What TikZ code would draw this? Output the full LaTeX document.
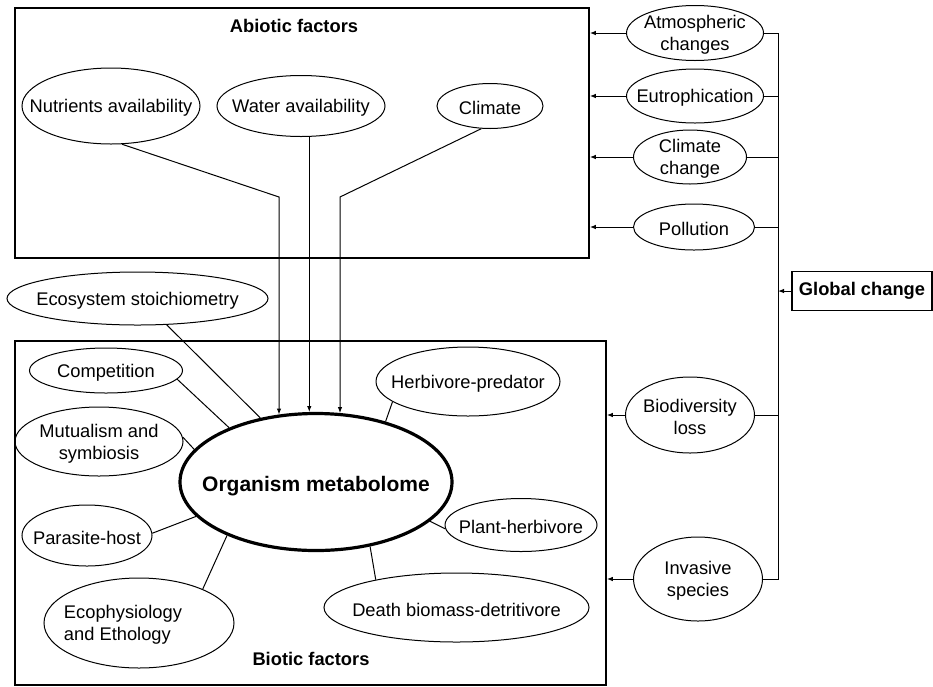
\documentclass[tikz,border=0pt]{standalone}
\usepackage{fontspec}
\setmainfont{Liberation Sans}
\usetikzlibrary{shapes.geometric,arrows.meta}

\begin{document}
\begin{tikzpicture}[
            x=1pt, y=-1pt,
            font=\fontsize{18.3}{22}\selectfont,
            >={Latex[length=6pt,width=4.5pt]},
            frame/.style={draw, rectangle, line width=1.8pt, inner sep=0pt},
            oval/.style={draw, ellipse, line width=1pt, inner sep=0pt},
            link/.style={line width=1pt},
            title/.style={font=\fontsize{18.3}{22}\selectfont\bfseries},
            every label/.style={yshift=-2pt}
        ]
        \useasboundingbox (0,0) rectangle (933,686);

        \node[frame, anchor=north west, minimum width=574pt, minimum height=250pt] (abio) at (14,7) {};
        \node[frame, anchor=north west, minimum width=591pt, minimum height=344pt] (bio) at (14,340) {};
        \node[title] (abiot) at (294,26) {Abiotic factors};
        \node[title] (biot) at (311,659) {Biotic factors};

        \node[oval, minimum width=178pt, minimum height=76pt, label={center:Nutrients availability}] (nut) at (111,106) {};
        \node[oval, minimum width=168pt, minimum height=61pt, label={center:Water availability}] (wat) at (301,106) {};
        \node[oval, minimum width=106pt, minimum height=45pt, label={center:Climate}] (cli) at (490,106) {};

        \node[oval, line width=3.2pt, minimum width=272pt, minimum height=137pt,
              label={[font=\fontsize{21}{25}\selectfont\bfseries, yshift=-2pt]center:Organism metabolome}] (org) at (316,482) {};

        \node[oval, minimum width=261pt, minimum height=53pt, label={center:Ecosystem stoichiometry}] (eco) at (137.5,298.5) {};
        \node[oval, minimum width=153pt, minimum height=45pt, label={center:Competition}] (comp) at (106,370.5) {};
        \node[oval, minimum width=168pt, minimum height=69pt, label={[align=center]center:Mutualism and\\symbiosis}] (mut) at (99,441.5) {};
        \node[oval, minimum width=130pt, minimum height=61pt, label={center:Parasite-host}] (par) at (87,535.5) {};
        \node[oval, minimum width=190pt, minimum height=90pt, label={[align=left, xshift=-16pt]center:Ecophysiology\\and Ethology}] (eph) at (139,623) {};
        \node[oval, minimum width=184pt, minimum height=69pt, label={center:Herbivore-predator}] (hp) at (468,381.5) {};
        \node[oval, minimum width=152pt, minimum height=53pt, label={center:Plant-herbivore}] (ph) at (521,525) {};
        \node[oval, minimum width=265pt, minimum height=69pt, label={center:Death biomass-detritivore}] (dea) at (456.5,607.5) {};

        \node[oval, minimum width=137pt, minimum height=55pt, label={[align=center]center:Atmospheric\\changes}] (atm) at (695,33) {};
        \node[oval, minimum width=137pt, minimum height=54pt, label={center:Eutrophication}] (eut) at (695,96) {};
        \node[oval, minimum width=113pt, minimum height=54pt, label={[align=center]center:Climate\\change}] (clc) at (690,157) {};
        \node[oval, minimum width=121pt, minimum height=46pt, label={center:Pollution}] (pol) at (694,227) {};
        \node[oval, minimum width=129pt, minimum height=76pt, label={[align=center]center:Biodiversity\\loss}] (bdl) at (690,415) {};
        \node[oval, minimum width=129pt, minimum height=84pt, label={[align=center]center:Invasive\\species}] (inv) at (698,579) {};

        \node[frame, title, minimum width=140pt, minimum height=39pt] (glob) at (862,291) {Global change};

        \coordinate (nutbend) at (279,197);
        \coordinate (clibend) at (340,197);
        \coordinate (bus) at (778,0);

        \draw[link, ->] (nut.-74) -- (nutbend) -- (nutbend |- org.119);
        \draw[link, ->] (wat.-75) -- (wat.-75 |- org.96);
        \draw[link, ->] (cli.-111) -- (clibend) -- (clibend |- org.70);

        \draw[link] (eco.-42) -- (org.131);
        \draw[link] (comp.-7) -- (org.148);
        \draw[link] (mut.3) -- (org.165);
        \draw[link] (par.2) -- (org.196);
        \draw[link] (eph.28) -- (org.211);
        \draw[link] (hp.195) -- (org.41);
        \draw[link] (org.-19) -- (ph.183);
        \draw[link] (org.-50) -- (dea.161);

        \draw[link] (atm.east) -- (atm.east -| bus) -- (inv.east -| bus) -- (inv.east);
        \draw[link] (eut.east) -- (eut.east -| bus);
        \draw[link] (clc.east) -- (clc.east -| bus);
        \draw[link] (pol.east) -- (pol.east -| bus);
        \draw[link] (bdl.east) -- (bdl.east -| bus);
        \draw[link, ->] (glob.west) -- (glob.west -| bus);

        \draw[link, ->] (atm.west) -- (atm.west -| abio.east);
        \draw[link, ->] (eut.west) -- (eut.west -| abio.east);
        \draw[link, ->] (clc.west) -- (clc.west -| abio.east);
        \draw[link, ->] (pol.west) -- (pol.west -| abio.east);
        \draw[link, ->] (bdl.west) -- (bdl.west -| bio.east);
        \draw[link, ->] (inv.west) -- (inv.west -| bio.east);
    \end{tikzpicture}
\end{document}
